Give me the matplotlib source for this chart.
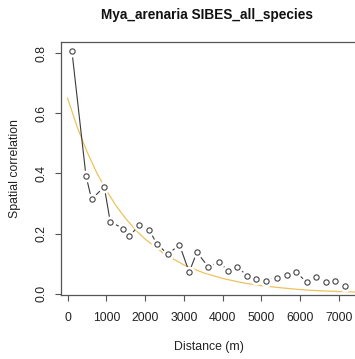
import matplotlib
matplotlib.use('Agg')
import matplotlib.pyplot as plt

plt.rcParams['font.family'] = ['Liberation Sans', 'DejaVu Sans']

# mean distance of each class (m) and the spatial correlation
distance = [113, 474, 620, 946, 1100, 1427, 1590, 1848, 2106, 2304, 2588, 2887,
            3137, 3335, 3634, 3910, 4134, 4366, 4639, 4856, 5121, 5397, 5655,
            5887, 6170, 6410, 6660, 6899, 7157]
correlation = [0.806, 0.393, 0.314, 0.356, 0.240, 0.217, 0.191, 0.228, 0.213,
               0.165, 0.132, 0.163, 0.072, 0.138, 0.089, 0.107, 0.076, 0.090,
               0.060, 0.050, 0.044, 0.053, 0.062, 0.072, 0.039, 0.057, 0.040,
               0.042, 0.027]

# fitted curve
fit_distance = [0, 250, 500, 750, 1000, 1250, 1500, 1750, 2000, 2500, 3000,
                3500, 4000, 4500, 5000, 5500, 6000, 6500, 7000, 7500]
fit_correlation = [0.650, 0.554, 0.473, 0.403, 0.344, 0.293, 0.250, 0.213,
                   0.182, 0.132, 0.096, 0.070, 0.051, 0.037, 0.027, 0.020,
                   0.014, 0.010, 0.0075, 0.0055]

x_ticks = [0, 1000, 2000, 3000, 4000, 5000, 6000, 7000]
y_ticks = [0.0, 0.2, 0.4, 0.6, 0.8]

fig = plt.figure(figsize=(3.55, 3.59), dpi=100)
ax = fig.add_axes([61 / 355, 64 / 359, 295 / 355, 253 / 359])

ax.plot(fit_distance, fit_correlation, color='#EDC25E', lw=0.9, zorder=2)
ax.plot(distance, correlation, color='#3a3a3a', lw=0.8, zorder=3)
ax.plot(distance, correlation, 'o', ms=7.5, color='white', zorder=4)
ax.plot(distance, correlation, 'o', ms=3.8, mfc='none', mec='#444444',
        mew=0.8, zorder=5)

ax.set_xlim(-169, 7439)
ax.set_ylim(-0.004, 0.837)
ax.set_xticks(x_ticks)
ax.set_yticks(y_ticks)
ax.set_yticklabels(['%.1f' % v for v in y_ticks], rotation=90, va='center')

for s in ax.spines.values():
    s.set_color('#555555')
    s.set_linewidth(0.9)
ax.tick_params(length=4, width=0.8, color='#555555', labelsize=8.8,
               labelcolor='#222222')
ax.tick_params(axis='x', pad=8.5)
ax.tick_params(axis='y', pad=6)

ax.set_xlabel('Distance (m)', fontsize=8.8, color='#222222', labelpad=12)
ax.set_ylabel('Spatial correlation', fontsize=8.8, color='#222222', labelpad=10)
fig.text(207 / 355, 1 - 15 / 359, 'Mya_arenaria SIBES_all_species',
         fontsize=9.8, fontweight='bold', ha='center', va='center',
         color='#111111')

fig.savefig('out.png', dpi=100)
